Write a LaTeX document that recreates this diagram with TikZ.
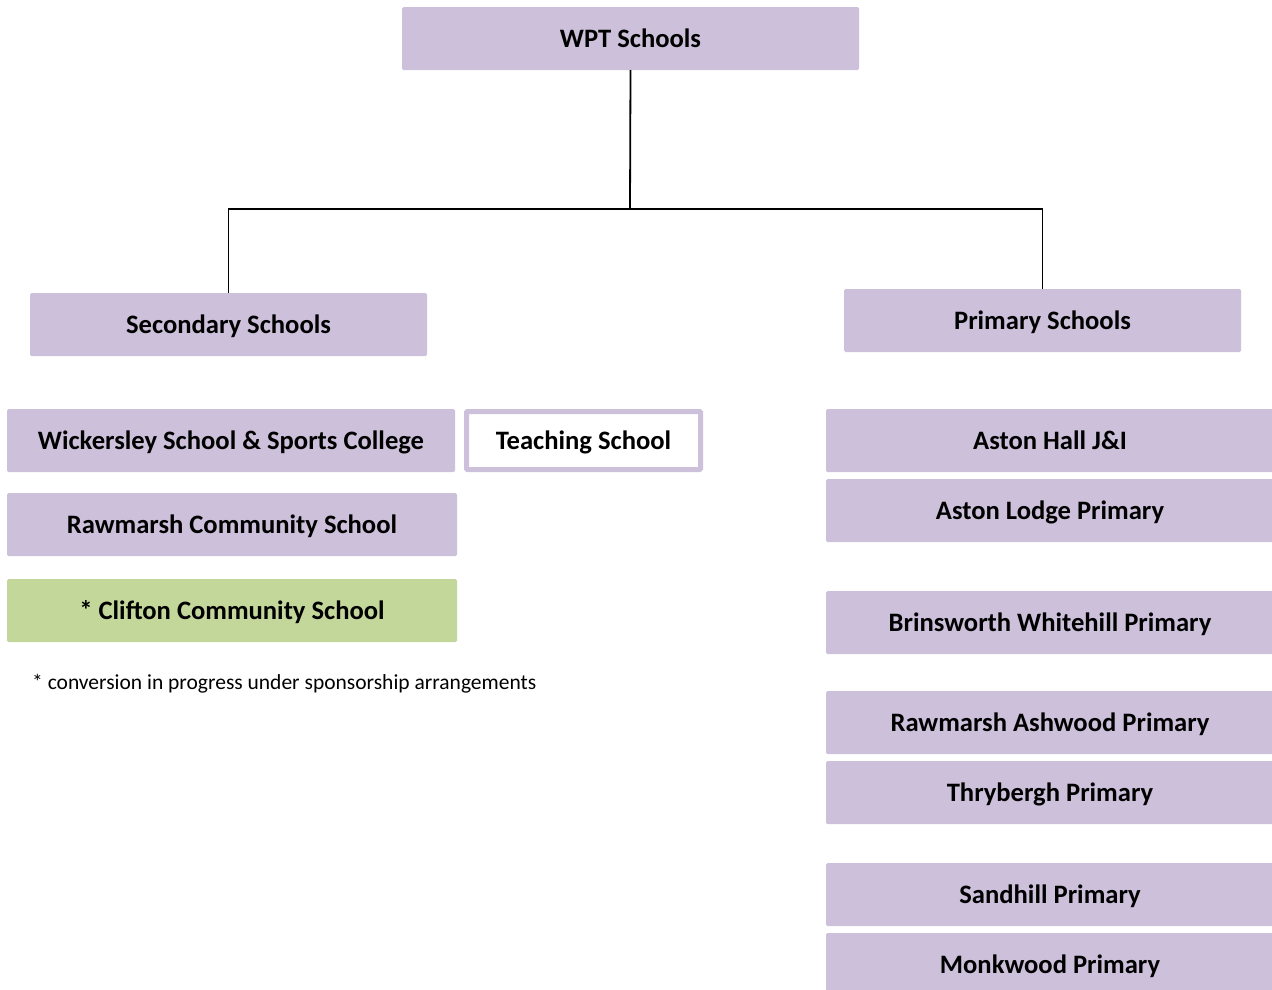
\documentclass[tikz,border=0pt]{standalone}
\usepackage{fontspec}
\setmainfont{Carlito}
\definecolor{lav}{HTML}{CCC0DA}
\definecolor{olive}{HTML}{C4D79B}
\begin{document}
\begin{tikzpicture}[x=1pt,y=-1pt,
  box/.style={rectangle, fill=lav, rounded corners=1.5pt, inner sep=0pt, minimum height=63pt, font=\fontsize{26.6}{30}\selectfont\bfseries, text=black, text height=18.5pt, text depth=1pt},
  greenbox/.style={box, fill=olive},
  tsbox/.style={box, fill=white, draw=lav, line width=5pt, rounded corners=1pt},
  conn/.style={draw=black, line width=1.8pt}]
\clip (0,0) rectangle (1272,989);
\fill[white] (0,0) rectangle (1272,989);
\node[box, minimum width=457pt] (wpt) at (630.5,38.5) {WPT Schools};
\node[box, minimum width=397pt] (sec) at (228.5,324.5) {Secondary Schools};
\node[box, minimum width=397pt] (pri) at (1042.5,320.5) {Primary Schools};
\coordinate (j) at (630,209);
\draw[conn] (wpt.south) -- (j);
\draw[conn] (sec.north) |- (j) -| (pri.north);
\node[box, minimum width=448pt] (wick) at (231,440.5) {Wickersley School \& Sports College};
\node[tsbox, minimum width=234pt, minimum height=58pt] (ts) at (583.5,440.5) {Teaching School};
\node[box, minimum width=450pt] (rcs) at (232,524.5) {Rawmarsh Community School};
\node[greenbox, minimum width=450pt] (ccs) at (232,610.5) {* Clifton Community School};
\node[anchor=west, inner sep=0pt, font=\fontsize{21.5}{24}\selectfont] (note) at (32,684) {* conversion in progress under sponsorship arrangements};
\node[box, minimum width=448pt] (ah) at (1050,440.5) {Aston Hall J\&I};
\node[box, minimum width=448pt] (al) at (1050,510.5) {Aston Lodge Primary};
\node[box, minimum width=448pt] (bw) at (1050,622.5) {Brinsworth Whitehill Primary};
\node[box, minimum width=448pt] (ra) at (1050,722.5) {Rawmarsh Ashwood Primary};
\node[box, minimum width=448pt] (th) at (1050,792.5) {Thrybergh Primary};
\node[box, minimum width=448pt] (sh) at (1050,894.5) {Sandhill Primary};
\node[box, minimum width=448pt] (mw) at (1050,964.5) {Monkwood Primary};
\end{tikzpicture}
\end{document}
